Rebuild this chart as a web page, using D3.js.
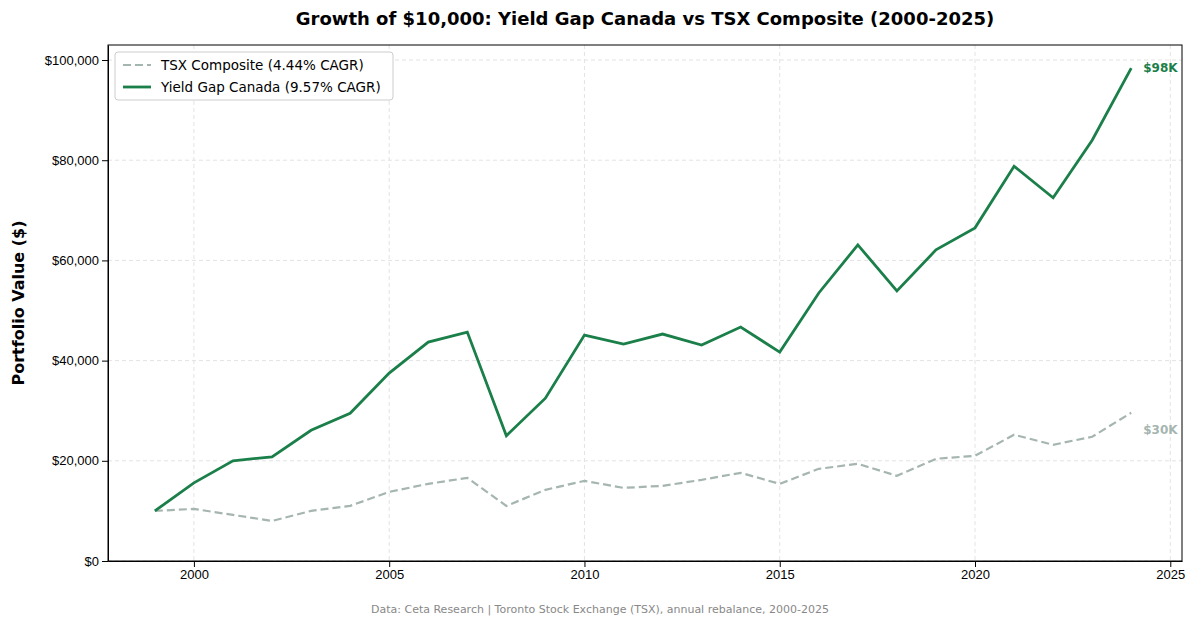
<!DOCTYPE html>
<html>
<head>
<meta charset="utf-8">
<script src="https://cdn.jsdelivr.net/npm/d3@7"></script>
<style>
  body { margin: 0; background: #fff; font-family: "DejaVu Sans", sans-serif; }
</style>
</head>
<body>
<svg id="chart" width="1200" height="625"></svg>
<script>
// values
const years = d3.range(1999, 2025);
const yieldGap = [10000, 15600, 20000, 20800, 26100, 29500, 37500, 43700, 45700, 25000,
  32500, 45100, 43300, 45300, 43100, 46700, 41700, 53500, 63100, 53900,
  62100, 66500, 78800, 72500, 84000, 98400];
const tsx = [10000, 10400, 9200, 8000, 10000, 11000, 13800, 15400, 16600, 11000,
  14200, 16000, 14600, 15000, 16200, 17600, 15400, 18400, 19400, 17000,
  20400, 21000, 25200, 23200, 24800, 29600];
const xTicks = [2000, 2005, 2010, 2015, 2020, 2025];
const yTicks = [0, 20000, 40000, 60000, 80000, 100000];

const green = "#1b7f4a", grey = "#a5b5b0";
const svg = d3.select("#chart");
const plotL = 108, plotR = 1182, plotT = 45, plotB = 561;

const x = d3.scaleLinear().domain([1997.8, 2025.3]).range([plotL, plotR]);
const y = d3.scaleLinear().domain([0, 103000]).range([plotB, plotT]);

// grid
svg.append("g").selectAll("line").data(xTicks).join("line")
  .attr("x1", d => x(d)).attr("x2", d => x(d)).attr("y1", plotT).attr("y2", plotB)
  .attr("stroke", "#e3e3e3").attr("stroke-dasharray", "4,3");
svg.append("g").selectAll("line").data(yTicks).join("line")
  .attr("x1", plotL).attr("x2", plotR).attr("y1", d => y(d)).attr("y2", d => y(d))
  .attr("stroke", "#e3e3e3").attr("stroke-dasharray", "4,3");

// axes
svg.append("g").attr("transform", `translate(0,${plotB})`)
  .call(d3.axisBottom(x).tickValues(xTicks).tickFormat(d3.format("d")).tickSizeOuter(0))
  .call(g => g.selectAll("text").attr("font-size", 13).attr("fill", "#000"));
svg.append("g").attr("transform", `translate(${plotL},0)`)
  .call(d3.axisLeft(y).tickValues(yTicks).tickFormat(d => "$" + d3.format(",")(d)).tickSizeOuter(0))
  .call(g => g.selectAll("text").attr("font-size", 13).attr("fill", "#000"));
svg.append("rect").attr("x", plotL).attr("y", plotT).attr("width", plotR - plotL).attr("height", plotB - plotT)
  .attr("fill", "none").attr("stroke", "#000");

const line = d3.line().x((d, i) => x(years[i])).y(d => y(d));
svg.append("path").datum(tsx).attr("d", line).attr("fill", "none")
  .attr("stroke", grey).attr("stroke-width", 2.2).attr("stroke-dasharray", "8,4");
svg.append("path").datum(yieldGap).attr("d", line).attr("fill", "none")
  .attr("stroke", green).attr("stroke-width", 2.8);

// end labels
svg.append("text").attr("x", x(2024) + 12).attr("y", y(yieldGap[25]) + 4)
  .attr("font-size", 12).attr("font-weight", "bold").attr("fill", green).text("$98K");
svg.append("text").attr("x", x(2024) + 12).attr("y", y(tsx[25]) + 21)
  .attr("font-size", 12).attr("font-weight", "bold").attr("fill", grey).text("$30K");

// legend
const lg = svg.append("g").attr("transform", "translate(115,52)");
lg.append("rect").attr("width", 278).attr("height", 48).attr("rx", 3)
  .attr("fill", "#fff").attr("stroke", "#ccc");
lg.append("line").attr("x1", 8).attr("x2", 36).attr("y1", 13).attr("y2", 13)
  .attr("stroke", grey).attr("stroke-width", 2.2).attr("stroke-dasharray", "8,4");
lg.append("text").attr("x", 46).attr("y", 18).attr("font-size", 13.5).text("TSX Composite (4.44% CAGR)");
lg.append("line").attr("x1", 8).attr("x2", 36).attr("y1", 35).attr("y2", 35)
  .attr("stroke", green).attr("stroke-width", 2.8);
lg.append("text").attr("x", 46).attr("y", 40).attr("font-size", 13.5).text("Yield Gap Canada (9.57% CAGR)");

// titles
svg.append("text").attr("x", 645).attr("y", 25).attr("text-anchor", "middle")
  .attr("font-size", 18).attr("font-weight", "bold").text("Growth of $10,000: Yield Gap Canada vs TSX Composite (2000-2025)");
svg.append("text").attr("transform", `translate(24,${(plotT + plotB) / 2}) rotate(-90)`)
  .attr("text-anchor", "middle").attr("font-size", 16).attr("font-weight", "bold").text("Portfolio Value ($)");
svg.append("text").attr("x", 600).attr("y", 613).attr("text-anchor", "middle")
  .attr("font-size", 11).attr("fill", "#888").text("Data: Ceta Research | Toronto Stock Exchange (TSX), annual rebalance, 2000-2025");
</script>
</body>
</html>
